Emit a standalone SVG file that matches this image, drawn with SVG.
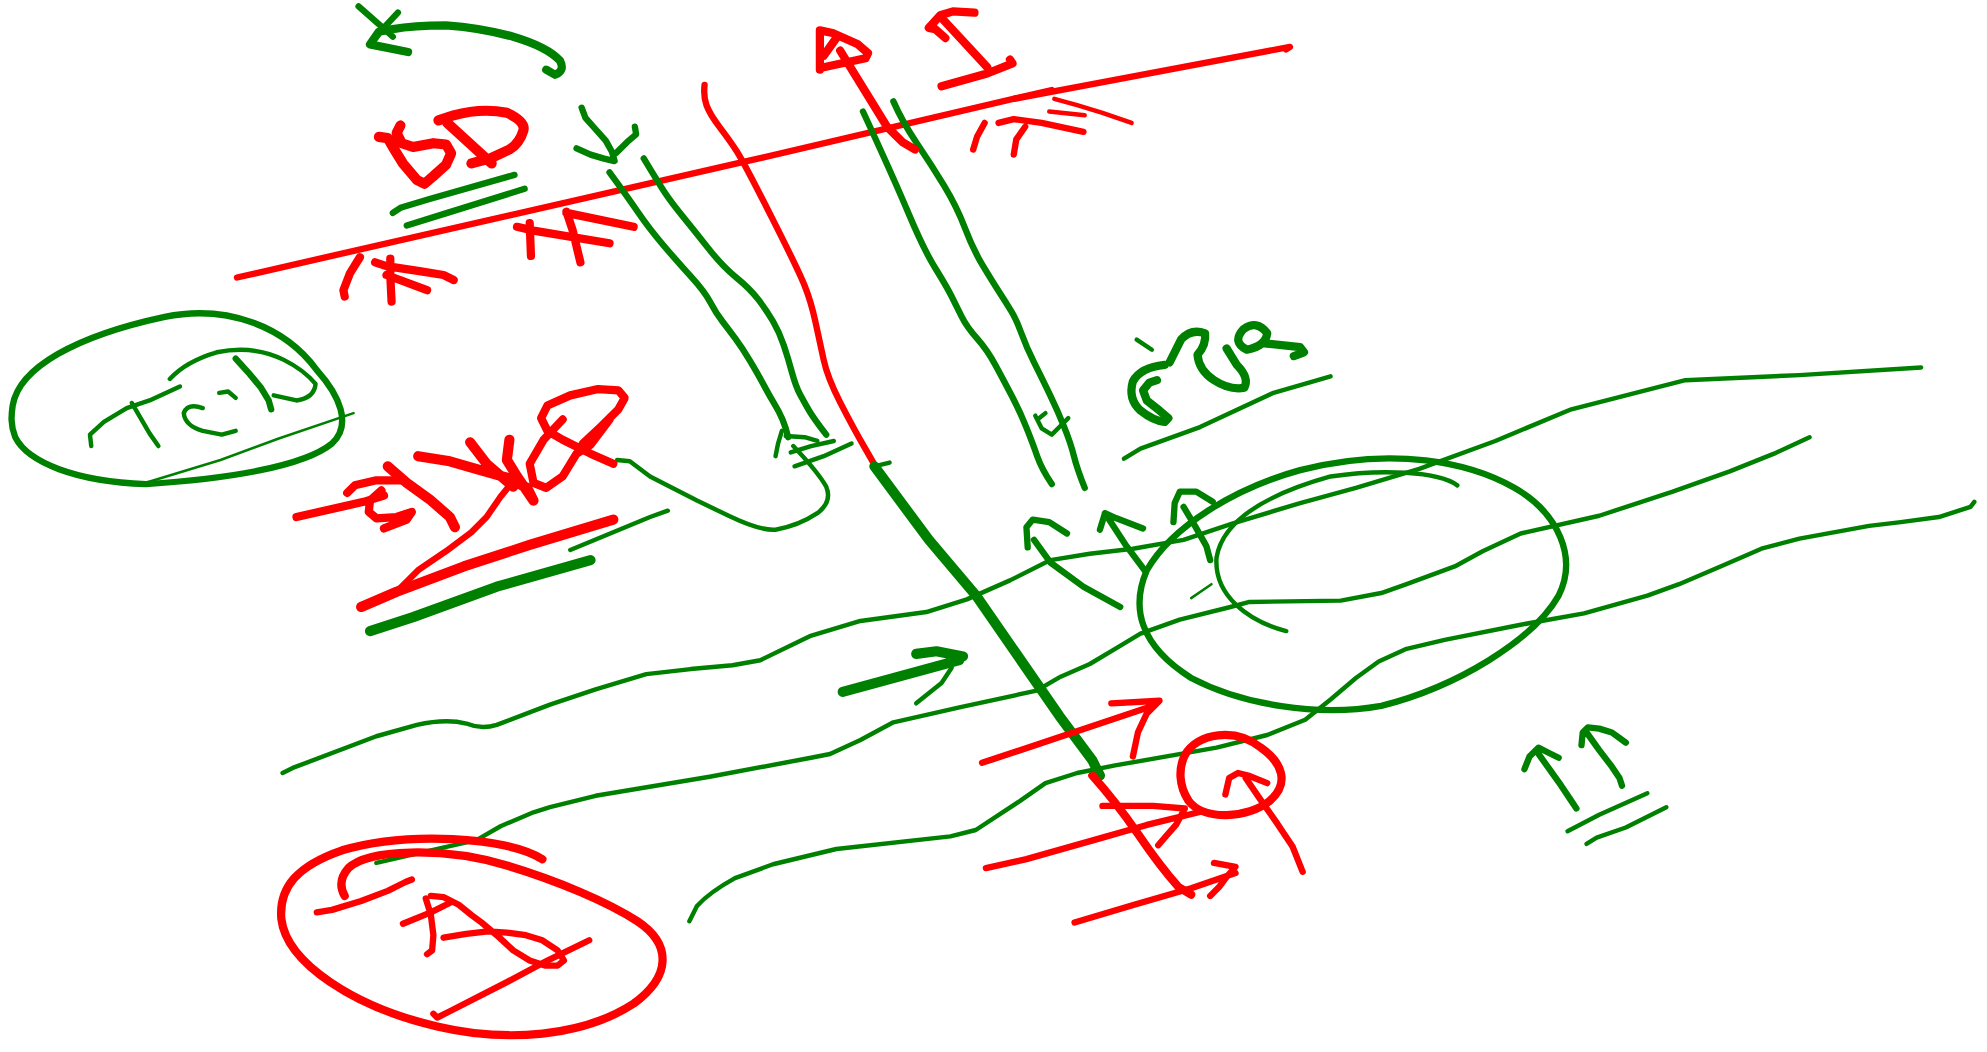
<svg xmlns="http://www.w3.org/2000/svg" width="1987" height="1052" viewBox="0 0 1987 1052">
<style>
path{fill:none;stroke-linecap:round;stroke-linejoin:round}
.r{stroke:#ff0000}.g{stroke:#008000}
.w1{stroke-width:2}.w2{stroke-width:3.5}.w3{stroke-width:5}.w4{stroke-width:6.5}.w5{stroke-width:8}
</style>
<rect width="1987" height="1052" fill="#ffffff"/>
<g transform="scale(1.2672)">
<g id="connectors">
<path class="r w3" d="M187,219 L586,128 L830,71"/>
<path class="r w3" d="M800,78 L1018,37 L1015,39"/>
<path class="r w3" d="M556,67 Q555,76 557.5,83 Q560,90 568,100.5 Q576,111 581.5,119.5 Q587,128 608.5,170.5 Q630,213 635,225.5 Q640,238 643.5,254 Q647,270 650,284 Q653,298 663,317.5 Q673,337 682.5,353.5 L692,370"/>
<path class="g w5" d="M690,368 L733,426 L771,471 L836,565 L862,600 L868,612"/>
<path class="r w4" d="M862,612 Q880,632 898,658 Q915,683 930,700 L940,706"/>
<path class="g w3" d="M481,136 Q495,155 503.5,167.5 Q512,180 523.5,193.5 Q535,207 545.5,218.5 Q556,230 560.5,238.5 Q565,247 570,253.5 Q575,260 580.5,267.5 Q586,275 592,285 Q598,295 602.5,303.5 Q607,312 611,318.5 Q615,325 617.5,331 Q620,337 622,345"/>
<path class="g w3" d="M508,125 Q520,145 525,152.5 Q530,160 539,171 Q548,182 559,196 Q570,210 581,219 Q592,228 598.5,236.5 Q605,245 610,253.5 Q615,262 618.5,272.5 Q622,283 625,294 Q628,305 631.5,311.5 Q635,318 638.5,324 Q642,330 652,343"/>
<path class="g w2" d="M487,363 L497,364 L513,376 L550,395 L575,407 Q600,419 612,418 Q630,415 645,405 Q657,396 652,384 Q645,372 626,352"/>
<path class="g w3" d="M681,88 Q705,140 717,168.5 Q729,197 738,211.5 Q747,226 751,234 Q755,242 759,250 Q763,258 771,267 Q779,276 785.5,288 Q792,300 798.5,312.5 Q805,325 810,337.5 Q815,350 818.5,360 Q822,370 830,382"/>
<path class="g w3" d="M705,80 Q712,96 723.5,113 Q735,130 745,146.5 Q755,163 761.5,180 Q768,197 775.5,209.5 Q783,222 788.5,230.5 Q794,239 798,245.5 Q802,252 806,263 Q810,274 816,286 Q822,298 828.5,311.5 Q835,325 840,337.5 Q845,350 847.5,360 Q850,370 856,385"/>
<path class="g w2" d="M223,610 L231,606 L297,581 L329,572 Q352,567 368,571 Q380,576 392,572 L434,556 L470,544 L510,532 L545,528 L578,525 L600,521 L639,502 L679,490 L731,483 L763,473 L797,458 L829,442 L860,437 L894,433 L934,426 L973,413 L1026,397 L1070,385 L1120,370 L1180,348 L1240,323 L1330,300 L1420,296 L1516,290"/>
<path class="g w2" d="M297,681 L340,671 L376,663 L395,652 L421,641 L434,637 L470,628 L560,613 L640,598 L655,595 L679,584 L705,570 L758,558 L818,545 L837,534 L860,524 L880,512 L900,500 L931,489 L971,479 L986,475 L1058,474 L1090,468 L1110,461 L1148,447 L1170,435 L1200,421 L1262,407 L1320,388 L1365,372 L1400,358 L1428,345"/>
<path class="g w2" d="M1558,396 L1555,400 L1530,408 L1500,412 L1475,415 L1420,425 L1390,433 L1360,446 L1325,461 L1300,470 L1250,484 L1200,493 L1140,505 L1110,512 L1088,522 L1070,535 L1050,552 L1030,568 L1000,580 L960,590 L880,604 L850,610 L825,618 L805,632 L770,655 L750,660 L660,670 L610,682 L580,693 Q560,704 550,715 L544,727"/>
</g>
<g id="top-arrow">
<path class="g w4" d="M431,55 L438,59 Q446,56 442,48 Q432,37 405,29 Q380,22 352,20 Q326,20 310,23 L299,25 L292,35 L322,41"/>
<path class="g w3" d="M283,5 L300,20 L310,29 M314,10 L300,25 L292,35"/>
</g>
<g id="label-bd">
<path class="r w5" d="M299,108 L306,109 L310,116 L318,129 L329,142 L335,145 L342,139 L352,130 L356,121 L352,114 L342,113 L326,116 L317,113 L313,105 L316,99"/>
<path class="r w5" d="M346,95 L358,91 Q380,85 400,89 Q415,96 413,103 Q410,113 402,118 L387,125 L372,129 M353,97 L388,129"/>
<path class="g w3" d="M310,168 L316,164 L339,157 L406,138 M321,178 L353,168 L414,149"/>
</g>
<g id="label-left-pair">
<path class="r w4" d="M284,203 L276,216 L271,229 L272,234 M296,207 L305,210 L331,214 L350,217 L358,221 M308,204 L308,218 L309,238 M305,217 L337,229"/>
<path class="r w4" d="M408,179 L421,182 L481,192 M418,176 L419,202 M447,167 L452,182 L458,207 M447,168 L500,179"/>
</g>
<g id="label-pa">
<path class="g w3" d="M459,85 L462,93 L470,102 L478,111 L483,120 L485,127 M455,117 L466,122 L476,125 L484,127 M486,121 L495,112 L502,106 L501,100"/>
</g>
<g id="label-top-right">
<path class="r w4" d="M647,55 L647,24 L657,26 L677,35 L685,42 L683,46 L650,53 M650,44 L660,30 M663,40 L700,100 L712,112 L722,118"/>
<path class="r w4" d="M769,10 L752,9 L742,12 L733,22 L738,23 L746,30 M742,13 L779,53 M743,68 L779,58 L799,50 L797,47"/>
<path class="r w3" d="M777,97 L771,108 L768,118 M788,97 L800,94 L822,97 L855,104 M809,100 L802,110 L800,122"/>
<path class="r w2" d="M828,88 L856,91 M832,78 L850,83 L870,89 L893,97"/>
</g>
<g id="left-ellipse">
<path class="g w3" d="M10,320 C15,290 60,265 130,250 C180,240 225,258 250,292 C268,312 278,335 262,350 C240,368 180,378 115,382 C60,380 22,365 12,345 C8,335 9,327 10,320 Z"/>
<path class="g w2" d="M134,299 Q147,285 171,278 Q200,272 224,284 Q240,292 249,303 Q248,314 234,316 L216,312"/>
<path class="g w3" d="M186,283 L196,294 L206,306 L212,316 L214,323"/>
<path class="g w2" d="M142,305 L118,316 L100,322 L82,333 L71,343 L72,352 M104,318 L111,330 L118,342 L125,352"/>
<path class="g w2" d="M160,322 Q148,318 145,326 Q146,336 160,340 L175,343 L186,340 M186,314 L180,309 L173,310"/>
<path class="g w1" d="M279,326 L220,346 L174,363 L115,381"/>
</g>
<g id="label-red-cluster">
<path class="r w4" d="M234,408 L287,396 L303,391 M274,389 L280,383 L297,379 L317,379 M301,387 L292,395 L291,404 L297,409 L313,408 L325,404 L321,410 L303,417"/>
<path class="r w5" d="M306,368 L321,381 L339,394 L355,408 L359,416 M330,360 L355,364 L379,371 L400,377 L416,385 L421,395 M371,349 L384,366 L405,384 M402,347 L400,363 L408,376 L421,395"/>
<path class="r w3" d="M408,376 L395,392 L384,408 L372,420 L352,435 L330,450 L313,467"/>
<path class="r w5" d="M285,479 L313,467 L366,447 L418,430 L484,410"/>
<path class="r w4" d="M444,331 L429,347 L418,366 L421,381 L431,385 L444,376 L455,358 L466,351 L481,331 M460,350 L475,336 L488,323 L493,314 L488,308 L472,307 L450,312 L432,320 L427,330 L432,340 L444,347 L466,358 L484,366"/>
<path class="g w5" d="M292,498 L326,487 L392,463 L466,442"/>
<path class="g w2" d="M450,434 L513,408 L527,403"/>
</g>
<g id="label-mid-green">
<path class="g w2" d="M612,360 L614,350 L617,340 M620,344 L635,345 L645,348 M624,357 L640,352 L658,348 M627,368 L650,360 L672,350 M690,368 L702,365"/>
<path class="g w2" d="M817,328 L822,338 L830,343 L838,335 L843,330 M820,330 L825,326"/>
</g>
<g id="label-pe">
<path class="g w2" d="M897,268 L909,276"/>
<path class="g w4" d="M919,288 Q900,290 894,301 Q890,315 900,324 Q910,332 919,333 L922,330 L915,324 L905,316 L902,308 L907,302 L913,300"/>
<path class="g w4" d="M923,286 L932,268 Q940,259 951,263 Q952,272 945,280 Q946,292 958,300 Q970,308 982,306 Q986,298 976,288 L968,275"/>
<path class="g w4" d="M981,260 Q992,252 1000,263 Q999,273 984,276 Q972,270 981,260 M998,271 L1026,274 L1029,278 L1021,281"/>
<path class="g w2" d="M887,362 L900,354 L947,337 L1005,310 L1050,297"/>
</g>
<g id="right-ellipse">
<path class="g w3" d="M1026,371 C975,385 925,415 905,450 C892,480 900,510 940,535 C980,556 1040,566 1090,557 C1150,542 1210,505 1230,470 C1245,440 1230,405 1195,385 C1160,365 1100,352 1026,371"/>
<path class="g w2" d="M1150,383 C1135,372 1090,370 1050,376 C1000,390 965,410 960,440 C958,470 985,490 1015,498"/>
<path class="g w1" d="M940,472 L956,461"/>
<path class="g w3" d="M811,432 L810,416 L815,410 L828,412 L842,421 M816,426 L829,444 L855,463 L884,479"/>
<path class="g w3" d="M868,418 L872,405 L881,409 L902,417 M872,405 L889,431 L904,451"/>
<path class="g w3" d="M926,412 L927,397 L931,388 L944,388 L957,396 M934,400 L943,415 L952,431 L955,442"/>
</g>
<g id="green-arrow">
<path class="g w5" d="M665,546 L757,521 M723,516 L739,514 L760,518"/>
<path class="g w2" d="M751,527 L743,539 L723,555"/>
</g>
<g id="bottom-right-labels">
<path class="r w4" d="M935,596 C945,578 975,574 995,590 C1012,602 1018,618 1002,632 C985,646 950,648 938,632 C930,620 930,606 935,596 Z"/>
<path class="r w3" d="M775,602 L910,557 M877,555 L915,553 L905,563 L898,578 L894,597"/>
<path class="r w3" d="M967,627 L970,614 L977,610 L985,612 L1000,618 M983,614 L994,630 L1008,650 L1020,668 L1028,688"/>
<path class="r w3" d="M778,685 L810,678 L870,661 L905,651 L950,640 M870,636 L910,636 L935,638 L928,651 L920,660 L914,667"/>
<path class="r w3" d="M848,728 L895,714 L940,701 L975,689 M958,681 L975,684 L968,692 L962,700 L955,707"/>
<path class="g w3" d="M1203,607 L1207,597 L1214,590 L1222,594 L1230,598 M1212,592 L1222,606 L1232,620 L1240,632 L1244,638 M1248,588 L1249,578 L1253,574 L1262,575 L1272,578 L1283,586 M1252,578 L1262,592 L1272,605 L1278,614 L1280,620"/>
<path class="g w2" d="M1237,656 L1262,643 L1300,626 M1252,666 L1260,661 L1283,653 L1315,637"/>
</g>
<g id="bottom-left-ellipse">
<path class="r w4" d="M428,678 C400,660 320,656 270,671 C235,683 220,700 222,725 C226,760 280,795 345,810 C400,823 460,818 500,792 C530,770 530,745 503,727 C480,712 440,695 400,683 C350,668 290,670 275,685 C268,693 268,700 272,707"/>
<path class="r w3" d="M250,720 L262,718 L285,711 L306,703 L320,696 L325,694 M318,729 L340,720 L356,712 M336,709 L340,722 L342,738 L341,750 L337,753"/>
<path class="r w3" d="M340,707 L350,708 L362,714 L372,722 L380,728 L392,738 L405,750 L418,758 L430,762 L440,762 L445,758 L440,750 L428,742 L415,738 L400,736 L385,735 L368,737 L350,740"/>
<path class="r w3" d="M342,800 L345,803 L355,798 L400,775 L432,758 L465,742"/>
</g>
</g>
</svg>
